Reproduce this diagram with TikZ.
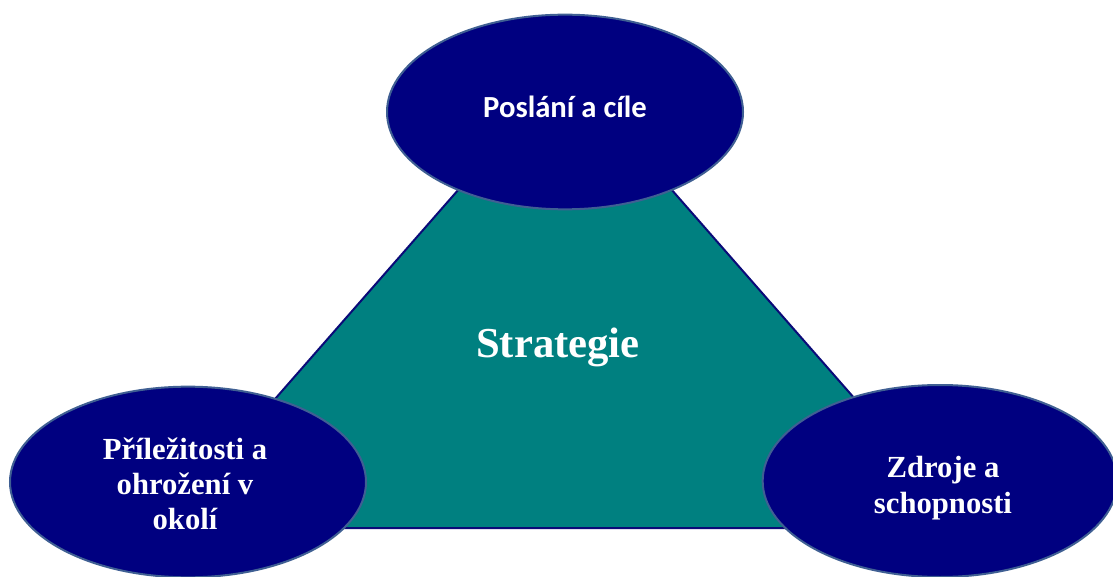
\documentclass[tikz,border=0pt]{standalone}
\usepackage{fontspec}
\setmainfont{Liberation Serif}
\newfontfamily\calib{Carlito}
\usetikzlibrary{shapes.geometric}
\definecolor{navyfill}{HTML}{000080}
\definecolor{ellborder}{HTML}{3F5F93}
\definecolor{tealfill}{HTML}{008080}
\definecolor{triline}{HTML}{0A0A78}
\tikzset{
  oval/.style={ellipse, fill=navyfill, draw=ellborder, line width=1.5pt, text=white, align=center, inner sep=0pt},
  serifbold/.style={font=\fontsize{23}{26.5}\selectfont\bfseries},
}
\begin{document}
\begin{tikzpicture}[x=0.75pt,y=-0.75pt]
\useasboundingbox (0,0) rectangle (1113,577);
\clip (0,0) rectangle (1113,577);
\fill[white] (0,0) rectangle (1113,577);
\coordinate (apex) at (565,68);
\coordinate (bl) at (162,528);
\coordinate (br) at (968,528);
\filldraw[fill=tealfill, draw=triline, line width=1.5pt, line join=miter] (apex) -- (br) -- (bl) -- cycle;
\node[text=white, anchor=base, inner sep=0pt, font=\fontsize{32}{36}\selectfont\bfseries] (strat) at (558,357) {Strategie};
\node[oval, minimum width=267pt, minimum height=146pt] (top) at (565,112) {};
\node[text=white, anchor=base, inner sep=0pt, font=\calib\fontsize{23}{27}\selectfont\bfseries] (toptext) at (565,118) {Poslání a cíle};
\node[oval, minimum width=267pt, minimum height=143pt] (left) at (188,482) {};
\node[text=white, serifbold, align=center] (lefttext) at (185,484) {Příležitosti a\\ohrožení v\\okolí};
\node[oval, minimum width=266pt, minimum height=144pt] (right) at (940,481) {};
\node[text=white, serifbold, align=center] (righttext) at (943,488) {Zdroje a\\schopnosti};
\end{tikzpicture}
\end{document}
